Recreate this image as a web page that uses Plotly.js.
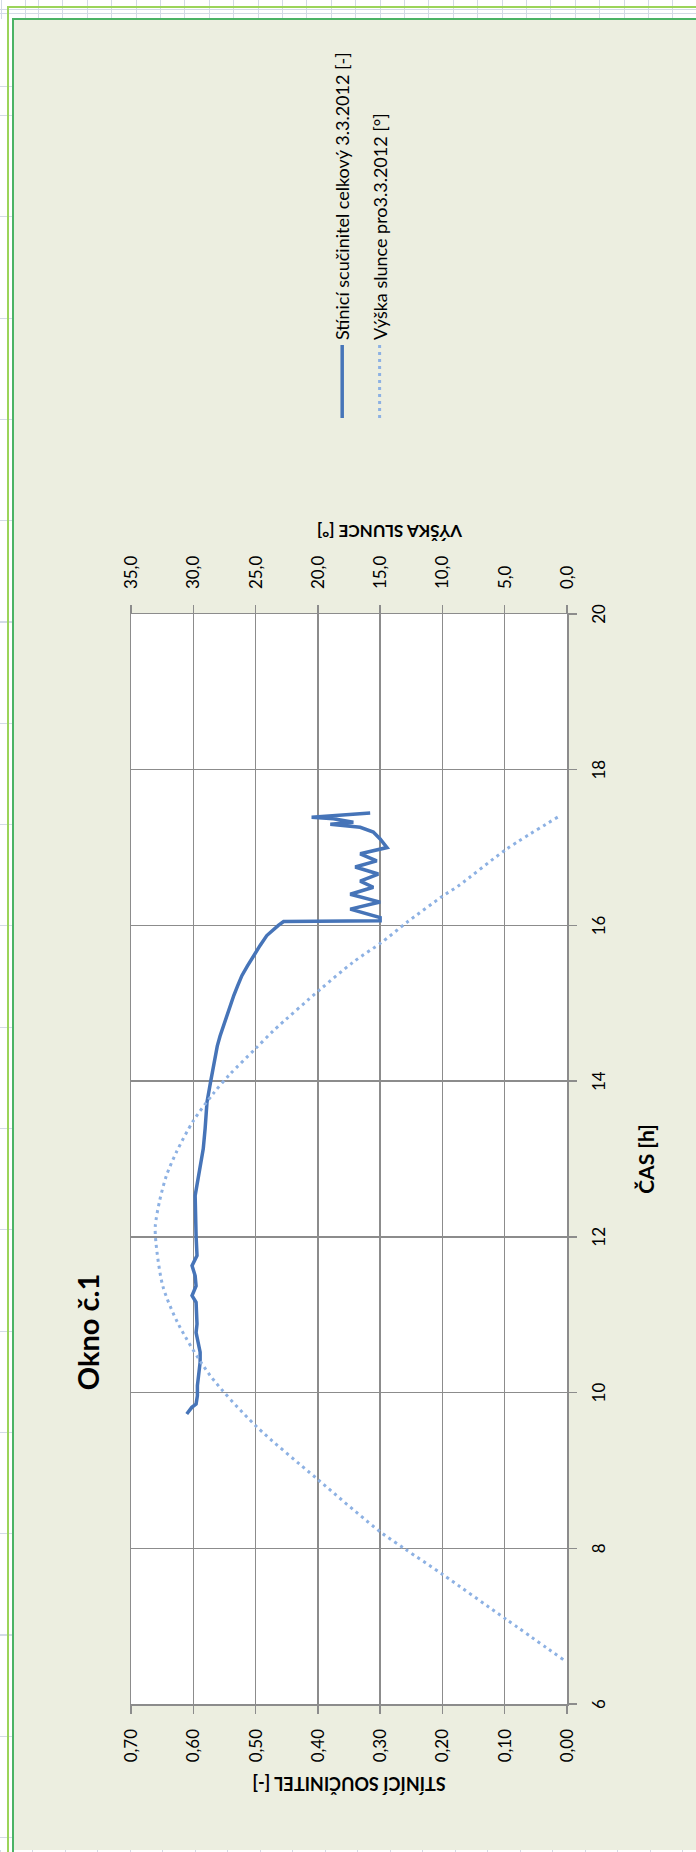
<!DOCTYPE html>
<html>
<head>
<meta charset="utf-8">
<script src="https://cdn.plot.ly/plotly-3.0.1.min.js"></script>
<style>
html,body{margin:0;padding:0;background:#fff;width:696px;height:1852px;overflow:hidden;position:relative}
#chart{position:absolute;left:0;top:0;width:1833px;height:683px;transform-origin:0 0;transform:translate(13px,1852px) rotate(-90deg);}
.topband{position:absolute;left:0;top:0;width:696px;height:19px;
  background-image:repeating-linear-gradient(90deg,#d3dae6 0 1px,transparent 1px 24.4px);background-position:38px 0;}
.topband2{position:absolute;left:0;top:9px;width:696px;height:1px;background:#d3dae6}
.topband3{position:absolute;left:0;top:13px;width:696px;height:1px;background:#d3dae6}
.leftband{position:absolute;left:0;top:0;width:13px;height:1852px;
  background-image:repeating-linear-gradient(180deg,#d3dae6 0 1px,transparent 1px 101.3px);background-position:0 115px;}
.lg-h{position:absolute;left:7px;top:6px;width:689px;height:2px;background:#9bd45a}
.lg-v{position:absolute;left:7px;top:6px;width:2px;height:1846px;background:#9bd45a}
.dg-h{position:absolute;left:12px;top:18px;width:684px;height:2px;background:#4bb365}
.dg-v{position:absolute;left:12px;top:18px;width:2px;height:1834px;background:#4bb365}
.botband{position:absolute;left:0;top:1850px;width:696px;height:2px;background:#fff;
  background-image:repeating-linear-gradient(90deg,#d3dae6 0 1px,transparent 1px 32.5px);}
</style>
</head>
<body>
<div class="topband"></div><div class="topband2"></div><div class="topband3"></div>
<div class="leftband"></div>
<div id="chart"></div>
<div class="botband"></div>
<div class="lg-h"></div><div class="lg-v"></div>
<div class="dg-h"></div><div class="dg-v"></div>
<script>
// ---- data ----
const shadeName = 'Stínicí scučinitel celkový 3.3.2012 [-]';
const sunName = 'Výška slunce pro3.3.2012 [°]';

const shadeTime = [9.725, 9.77, 9.81, 9.853, 9.96, 10.09, 10.39, 10.52, 10.77, 10.88, 11.16, 11.245, 11.37, 11.50, 11.63, 11.76, 12.01, 12.53, 12.87, 13.13, 13.39, 13.73, 14.00, 14.29, 14.45, 14.58, 14.7, 14.82, 14.97, 15.1, 15.22, 15.355, 15.48, 15.61, 15.74, 15.87, 15.94, 16.00, 16.05,
  16.06, 16.10, 16.21, 16.30, 16.40, 16.49, 16.57, 16.66, 16.75, 16.83, 16.92, 17.00, 17.11, 17.20, 17.26, 17.30, 17.325, 17.37, 17.39, 17.445];
const shadeValue = [0.6105, 0.606, 0.6024, 0.5955, 0.5934, 0.5934, 0.589, 0.589, 0.5955, 0.594, 0.5955, 0.602, 0.5955, 0.597, 0.602, 0.594, 0.5955, 0.597, 0.590, 0.584, 0.581, 0.578, 0.572, 0.566, 0.5615, 0.557, 0.552, 0.547, 0.541, 0.535, 0.529, 0.522, 0.513, 0.5035, 0.493, 0.482, 0.473, 0.4634, 0.455,
  0.300, 0.300, 0.348, 0.300, 0.348, 0.311, 0.332, 0.303, 0.340, 0.3055, 0.332, 0.289, 0.300, 0.311, 0.332, 0.380, 0.343, 0.375, 0.410, 0.316];

const sunTime = [6.57, 7.09, 7.66, 7.99, 8.2, 8.89, 9.575, 10.22, 10.88, 11.37, 11.93, 12.14, 12.465, 12.79, 13.09, 13.49, 13.84, 14.09, 14.41, 14.65, 15.18, 15.53, 15.78, 16.04, 16.38, 16.51, 16.98, 17.41];
const sunAltitude = [0.3, 4.9, 9.95, 13.0, 14.9, 20.05, 25.0, 28.65, 31.2, 32.45, 33.0, 33.05, 32.7, 32.15, 31.35, 30.0, 28.4, 27.05, 25.05, 23.55, 19.8, 17.15, 14.9, 12.85, 9.95, 8.7, 4.85, 0.55];

const timeTicks = [6, 8, 10, 12, 14, 16, 18, 20];
const timeTickText = ['6', '8', '10', '12', '14', '16', '18', '20'];

const chartTitle = 'Okno č.1';
const xTitle = 'ČAS [h]';
const yTitle = 'STÍNÍCÍ SOUČINITEL [-]';
const y2Title = 'VÝŠKA SLUNCE [°]';

// ---- chart ----
const FONT = 'Lato, "Liberation Sans", sans-serif';
const GRID = '#8c8c8c';

const traces = [
  {x: shadeTime, y: shadeValue, name: shadeName, type: 'scatter', mode: 'lines', yaxis: 'y',
   legendgroup: 'a', line: {color: '#4674b8', width: 3.5}},
  {x: sunTime, y: sunAltitude, name: sunName, type: 'scatter', mode: 'lines', yaxis: 'y2',
   legendgroup: 'b', line: {color: '#8db1e3', width: 3, dash: '3px,4px', shape: 'spline', smoothing: 0.8}}
];

const axisCommon = {
  ticks: 'outside', ticklen: 8, tickwidth: 1.5, tickcolor: GRID,
  showline: true, linecolor: GRID, linewidth: 1.5, zeroline: false,
  tickfont: {family: FONT, size: 17, color: '#000'}
};

const layout = {
  width: 1833, height: 683,
  paper_bgcolor: '#eceee0', plot_bgcolor: '#ffffff',
  margin: {l: 148, r: 595, t: 118, b: 129, pad: 0},
  separators: ',.',
  font: {family: FONT, size: 17, color: '#000'},
  showlegend: true,
  title: {text: chartTitle, font: {family: FONT, size: 29, weight: 'bold', color: '#000'},
          xref: 'container', x: 520 / 1833, xanchor: 'center',
          yref: 'container', y: 1 - 76 / 683, yanchor: 'middle'},
  xaxis: Object.assign({}, axisCommon, {
    range: [6, 20], tickvals: timeTicks, ticktext: timeTickText,
    showgrid: true, gridcolor: GRID, gridwidth: 1.5, mirror: true,
    ticklabelstandoff: 8,
    title: {text: xTitle, font: {family: FONT, size: 21, weight: 'bold'}, standoff: 31}
  }),
  yaxis: Object.assign({}, axisCommon, {
    range: [0, 0.7], dtick: 0.1, tick0: 0, tickformat: '.2f',
    showgrid: true, gridcolor: GRID, gridwidth: 1.5,
    ticklabelstandoff: 12,
    title: {text: yTitle, font: {family: FONT, size: 18, weight: 'bold'}, standoff: 9}
  }),
  yaxis2: Object.assign({}, axisCommon, {
    overlaying: 'y', side: 'right',
    range: [0, 35], dtick: 5, tick0: 0, tickformat: '.1f',
    showgrid: false,
    ticklabelstandoff: 12
  }),
  annotations: [
    {text: y2Title, xref: 'paper', yref: 'paper', x: (1320 - 148) / 1090, y: 1 - (377 - 118) / 436,
     xanchor: 'center', yanchor: 'middle', textangle: -90, showarrow: false,
     font: {family: FONT, size: 17, weight: 'bold', color: '#000'}}
  ],
  legend: {
    x: (1429 - 148) / 1090, xanchor: 'left',
    y: 1 - (311 - 118) / 436, yanchor: 'top',
    bgcolor: 'rgba(0,0,0,0)', borderwidth: 0,
    font: {family: FONT, size: 18, color: '#000'},
    itemwidth: 73,
    tracegroupgap: 11, traceorder: 'grouped'
  }
};

Plotly.newPlot('chart', traces, layout, {displayModeBar: false, staticPlot: true});
</script>
</body>
</html>
